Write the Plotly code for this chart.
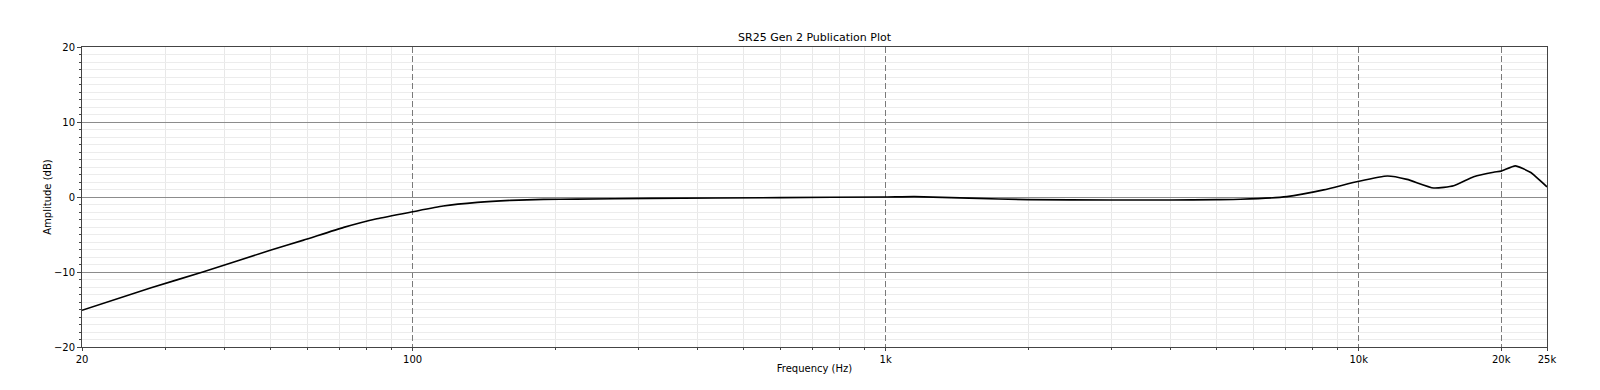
import plotly.graph_objects as go
import math

title = "SR25 Gen 2 Publication Plot"
freq_hz = [20, 28, 36, 50, 58.8, 71.5, 84, 100, 116, 137, 161, 189, 222, 318, 600,
           1000, 1150, 1500, 2000, 3000, 4000, 5000, 5620, 7050, 8430, 10000, 11500,
           12650, 14400, 15870, 17500, 19280, 20000, 21430, 23050, 25000]
amp_db = [-15.1, -12.1, -10.0, -7.1, -5.75, -4.05, -2.9, -1.97, -1.21, -0.72, -0.45,
          -0.32, -0.28, -0.18, -0.08, 0.0, 0.05, -0.15, -0.35, -0.4, -0.4, -0.35, -0.3,
          0.05, 0.95, 2.1, 2.8, 2.35, 1.2, 1.5, 2.7, 3.3, 3.45, 4.15, 3.3, 1.35]
x_tickvals = [20, 100, 1000, 10000, 20000, 25000]
x_ticktext = ["20", "100", "1k", "10k", "20k", "25k"]
x_minor = [m * d for d in (10, 100, 1000) for m in range(2, 10) if 20 < m * d < 25000 and m * d != 20000]
y_tickvals = [-20, -10, 0, 10, 20]

font = "DejaVu Sans"
W, H = 1600, 390
fig = go.Figure()
fig.add_trace(go.Scatter(x=freq_hz, y=amp_db, mode="lines",
                         line=dict(color="black", width=1.6, shape="spline", smoothing=0.5),
                         showlegend=False))
# page body has an 8px margin; margins compensate so the plot lands where the reference has it
fig.update_layout(
    width=W, height=H,
    margin=dict(l=74, r=61, t=39, b=51),
    paper_bgcolor="white", plot_bgcolor="white",
    title=dict(text=title, x=(74 + (W - 61)) / 2 / W, xanchor="center", y=1 - 29 / H, yanchor="middle",
               font=dict(family=font, size=11, color="black")),
    font=dict(family=font, size=10, color="black"),
)
fig.update_xaxes(
    type="log", range=[math.log10(20), math.log10(25000)],
    tickvals=x_tickvals, ticktext=x_ticktext,
    ticks="outside", ticklen=3, tickcolor="#444",
    showgrid=True, gridcolor="#7a7a7a", griddash="6px,3px", gridwidth=1,
    showline=True, linecolor="#444", linewidth=1, mirror=True,
    minor=dict(tickvals=x_minor, ticks="outside", ticklen=2, tickcolor="#444",
               showgrid=True, gridcolor="#e8e8e8", griddash="solid", gridwidth=1),
    title=dict(text="Frequency (Hz)", font=dict(family=font, size=10), standoff=0),
    tickfont=dict(family=font, size=10),
    zeroline=False,
)
fig.update_yaxes(
    range=[-20, 20], tickvals=y_tickvals,
    ticks="outside", ticklen=4, tickcolor="#444",
    showgrid=True, gridcolor="#8c8c8c", gridwidth=1,
    showline=True, linecolor="#444", linewidth=1, mirror=True,
    minor=dict(dtick=1, ticks="outside", ticklen=2, tickcolor="#444",
               showgrid=True, gridcolor="#ececec", griddash="solid", gridwidth=1),
    title=dict(text="Amplitude (dB)", font=dict(family=font, size=10), standoff=0),
    tickfont=dict(family=font, size=10),
    zeroline=False,
)
fig.write_html("out.html")
